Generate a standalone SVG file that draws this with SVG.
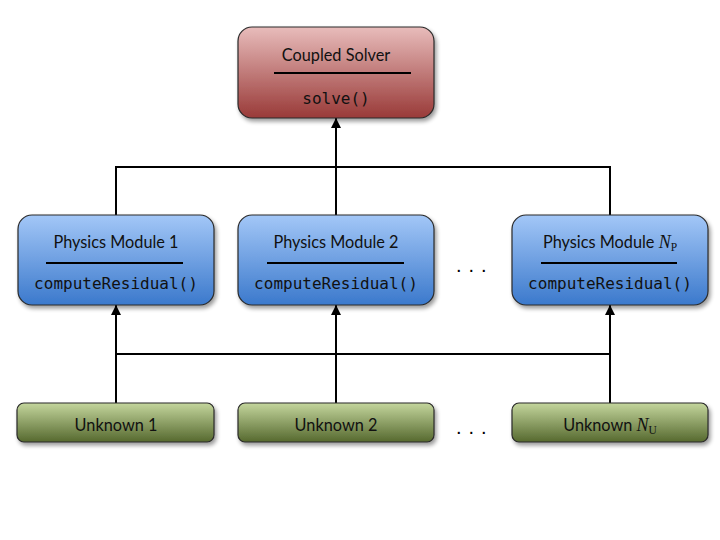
<svg xmlns="http://www.w3.org/2000/svg" width="720" height="540" viewBox="0 0 720 540">
<defs>
<linearGradient id="gRed" x1="0" y1="0" x2="0" y2="1"><stop offset="0" stop-color="#e8bcbb"/><stop offset="1" stop-color="#993a38"/></linearGradient>
<linearGradient id="gBlue" x1="0" y1="0" x2="0" y2="1"><stop offset="0" stop-color="#a3c7f7"/><stop offset="1" stop-color="#3b79cc"/></linearGradient>
<linearGradient id="gGreen" x1="0" y1="0" x2="0" y2="1"><stop offset="0" stop-color="#c4d69d"/><stop offset="1" stop-color="#56692f"/></linearGradient>
<filter id="sh" x="-10%" y="-10%" width="130%" height="140%"><feGaussianBlur in="SourceAlpha" stdDeviation="2"/><feOffset dx="2" dy="3"/><feComponentTransfer><feFuncA type="linear" slope="0.4"/></feComponentTransfer><feMerge><feMergeNode/><feMergeNode in="SourceGraphic"/></feMerge></filter>
<marker id="arr" viewBox="0 0 10 10" refX="10" refY="5" markerWidth="10" markerHeight="10" markerUnits="userSpaceOnUse" orient="auto"><path d="M0,0 L10,5 L0,10 z" fill="#000"/></marker>
</defs>
<style>
.box{stroke:#2a2a2a;stroke-width:1.2;filter:url(#sh)}
.t{font-family:Lato,"Open Sans","Liberation Sans",sans-serif;font-size:16.3px;fill:#111;text-anchor:middle}
.m{font-family:"DejaVu Sans Mono","Liberation Mono",monospace;font-size:16px;fill:#111;text-anchor:middle}
.sep{stroke:#000;stroke-width:2}
.c{stroke:#000;stroke-width:2;fill:none}
.it{font-family:"Liberation Serif",serif;font-style:italic;font-size:18px}
.sub{font-family:"Liberation Serif",serif;font-size:11.5px}
.dots{font-family:"Liberation Sans",sans-serif;font-size:20px;fill:#000;letter-spacing:7px}
</style>
<rect width="720" height="540" fill="#fff"/>
<g id="connectors">
<path class="c" d="M116,215 V167 H610 V215"/>
<path class="c" d="M336,215 V167"/>
<path class="c" d="M336,167 V118" marker-end="url(#arr)"/>
<path class="c" d="M116,354 H610"/>
<path class="c" d="M116,403 V305" marker-end="url(#arr)"/>
<path class="c" d="M336,403 V305" marker-end="url(#arr)"/>
<path class="c" d="M610,403 V305" marker-end="url(#arr)"/>
</g>
<g id="solver">
<rect class="box" x="238" y="27" width="196" height="91" rx="14" fill="url(#gRed)"/>
<text class="t" x="336" y="61">Coupled Solver</text>
<line class="sep" x1="274" y1="73" x2="411" y2="73"/>
<text class="m" x="336" y="104">solve()</text>
</g>
<g id="module1">
<rect class="box" x="18" y="215" width="196" height="90" rx="14" fill="url(#gBlue)"/>
<text class="t" x="116" y="248">Physics Module 1</text>
<line class="sep" x1="46" y1="263" x2="183" y2="263"/>
<text class="m" x="116" y="289">computeResidual()</text>
</g>
<g id="module2">
<rect class="box" x="238" y="215" width="196" height="90" rx="14" fill="url(#gBlue)"/>
<text class="t" x="336" y="248">Physics Module 2</text>
<line class="sep" x1="267" y1="263" x2="404" y2="263"/>
<text class="m" x="336" y="289">computeResidual()</text>
</g>
<g id="moduleNP">
<rect class="box" x="512" y="215" width="196" height="90" rx="14" fill="url(#gBlue)"/>
<text class="t" x="610" y="248">Physics Module <tspan class="it">N</tspan><tspan class="sub" dy="3">P</tspan></text>
<line class="sep" x1="541" y1="263" x2="677" y2="263"/>
<text class="m" x="610" y="289">computeResidual()</text>
</g>
<text class="dots" x="456" y="272">...</text>
<g id="unknown1">
<rect class="box" x="17" y="403" width="197" height="39" rx="7" fill="url(#gGreen)"/>
<text class="t" x="116" y="431">Unknown 1</text>
</g>
<g id="unknown2">
<rect class="box" x="238" y="403" width="196" height="39" rx="7" fill="url(#gGreen)"/>
<text class="t" x="336" y="431">Unknown 2</text>
</g>
<g id="unknownNU">
<rect class="box" x="512" y="403" width="196" height="39" rx="7" fill="url(#gGreen)"/>
<text class="t" x="610" y="431">Unknown <tspan class="it">N</tspan><tspan class="sub" dy="3">U</tspan></text>
</g>
<text class="dots" x="456" y="434">...</text>
</svg>
